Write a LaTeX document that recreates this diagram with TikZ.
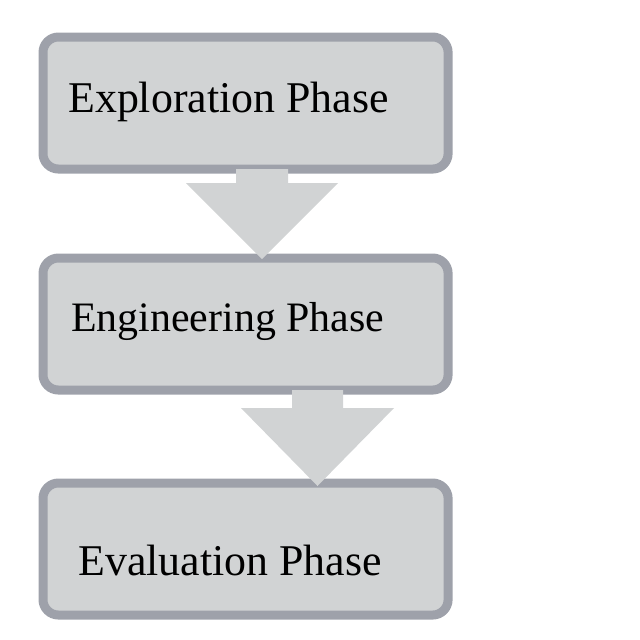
\documentclass[tikz,border=0pt]{standalone}
\usepackage{fontspec}
\setmainfont{Liberation Serif}
\usetikzlibrary{calc}
\definecolor{boxfill}{HTML}{D1D3D4}
\definecolor{boxline}{HTML}{9EA1AA}
\begin{document}
\begin{tikzpicture}[x=0.025cm,y=-0.025cm,
  phase/.style={draw=boxline, fill=boxfill, line width=6.4pt, rounded corners=11pt,
    minimum width=10.125cm, minimum height=3.3cm, inner sep=0pt, outer sep=0pt, anchor=north west},
  phasetext/.style={anchor=base west, inner sep=0pt, font=\fontsize{31.2}{36}\selectfont},
  flow/.style={fill=boxfill, draw=none}]
\useasboundingbox (0,0) rectangle (640,640);
\node[phase] (b1) at (43,37) {};
\node[phase] (b2) at (43,258) {};
\node[phase] (b3) at (43,483) {};
\node[phasetext] (t1) at ($(b1.north west)+(25,75)$) {Exploration Phase};
\node[phasetext, font=\fontsize{29.8}{34}\selectfont] (t2) at ($(b2.north west)+(28,73)$) {Engineering Phase};
\node[phasetext] (t3) at ($(b3.north west)+(35,92)$) {Evaluation Phase};
% arrow 1
\fill[flow] ($(b1.south west)+(193,0)$) -- ($(b1.south west)+(245,0)$) -- ($(b1.south west)+(245,14)$)
  -- ($(b1.south west)+(295,14)$) -- ($(b2.north west)+(219,1)$) -- ($(b1.south west)+(143,14)$)
  -- ($(b1.south west)+(193,14)$) -- cycle;
% arrow 2
\fill[flow] ($(b2.south west)+(249,0)$) -- ($(b2.south west)+(300,0)$) -- ($(b2.south west)+(300,18)$)
  -- ($(b2.south west)+(351,18)$) -- ($(b3.north west)+(274.5,3)$) -- ($(b2.south west)+(198,18)$)
  -- ($(b2.south west)+(249,18)$) -- cycle;
\end{tikzpicture}
\end{document}
